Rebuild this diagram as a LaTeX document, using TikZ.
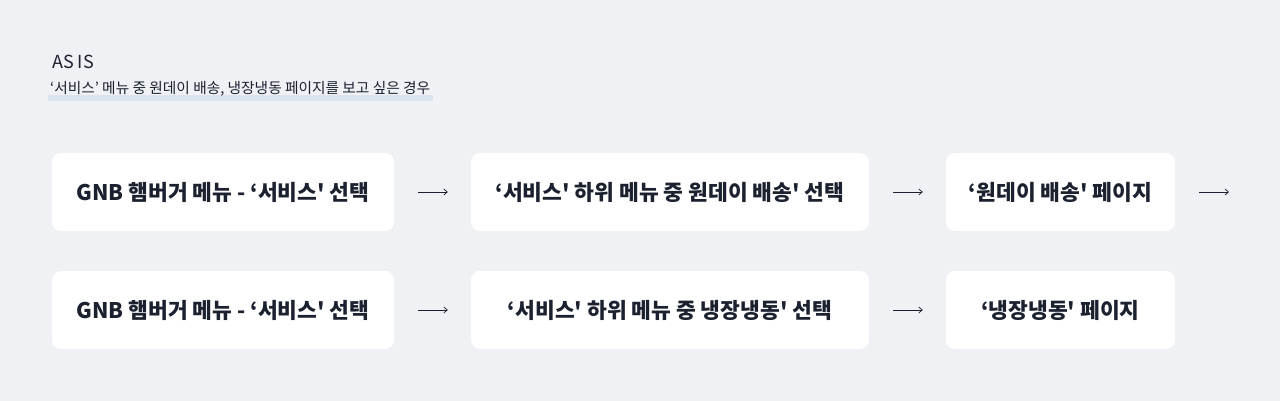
\documentclass[tikz,border=0pt]{standalone}
\usepackage{fontspec}
\setmainfont{Noto Sans CJK KR}
\usetikzlibrary{arrows.meta}
\definecolor{pagebg}{HTML}{F0F1F5}
\definecolor{inkdark}{HTML}{1C2130}
\definecolor{marker}{HTML}{DCE4EF}
\newcommand\sq{\textquotesingle}
\begin{document}
\begin{tikzpicture}[x=1pt,y=-1pt]

    \tikzset{
      stepbox/.style={
        fill=white,
        rounded corners=9pt,
        minimum height=78pt,
        inner sep=0pt,
        text=inkdark,
        font=\fontsize{21.5}{26}\selectfont\bfseries,
      },
      flow/.style={
        draw=inkdark,
        line width=0.7pt,
        -{Straight Barb[length=3.5pt,width=6pt]},
      },
    }
    \fill[pagebg] (0,0) rectangle (1280,401);
    \useasboundingbox (0,0) rectangle (1280,401);
    \fill[marker] (48,95) rectangle (433,101);
    \node[anchor=base west,inner sep=0pt,text=inkdark,font=\fontsize{18}{22}\selectfont] (title) at (52,69) {AS IS};
    \node[anchor=base west,inner sep=0pt,text=inkdark,font=\fontsize{14.7}{17}\selectfont] (subtitle) at (50,94) {‘서비스’ 메뉴 중 원데이 배송, 냉장냉동 페이지를 보고 싶은 경우};

    \node[stepbox,minimum width=342pt] (gnbA) at (223,192) {GNB 햄버거 메뉴 - ‘서비스\sq{} 선택};
	\node[stepbox,minimum width=398pt] (subA) at (670,192) {‘서비스\sq{} 하위 메뉴 중 원데이 배송\sq{} 선택};
	\node[stepbox,minimum width=229pt] (pageA) at (1060.5,192) {‘원데이 배송\sq{} 페이지};
    \node[stepbox,minimum width=342pt] (gnbB) at (223,310) {GNB 햄버거 메뉴 - ‘서비스\sq{} 선택};
	\node[stepbox,minimum width=398pt] (subB) at (670,310) {‘서비스\sq{} 하위 메뉴 중 냉장냉동\sq{} 선택};
	\node[stepbox,minimum width=229pt] (pageB) at (1060.5,310) {‘냉장냉동\sq{} 페이지};
    \coordinate (nextA) at (1229,192);

	\draw[flow] ([xshift=24pt]gnbA.east) -- ([xshift=-23pt]subA.west);
	\draw[flow] ([xshift=24pt]subA.east) -- ([xshift=-23pt]pageA.west);
	\draw[flow] ([xshift=24pt]pageA.east) -- (nextA);
	\draw[flow] ([xshift=24pt]gnbB.east) -- ([xshift=-23pt]subB.west);
	\draw[flow] ([xshift=24pt]subB.east) -- ([xshift=-23pt]pageB.west);

\end{tikzpicture}
\end{document}
